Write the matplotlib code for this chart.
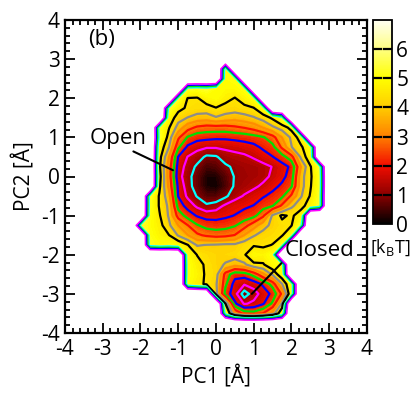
"""Free energy landscape on PC1/PC2 with open and closed basins."""

import numpy as np
import matplotlib as mpl
import matplotlib.pyplot as plt
from matplotlib.colors import LinearSegmentedColormap, Normalize
from matplotlib.ticker import MultipleLocator

plt.rcParams["font.family"] = ["Open Sans", "DejaVu Sans"]
plt.rcParams["mathtext.fontset"] = "custom"
plt.rcParams["mathtext.rm"] = "Open Sans"
plt.rcParams["axes.unicode_minus"] = False

# bin centres of the histogram [A]
PC1_GRID = np.arange(-2.25, 3.01, 0.25)   # 22 columns
PC2_GRID = np.arange(3.0, -3.76, -0.25)   # 28 rows, top to bottom

N = 9.0  # unsampled bins (drawn white)

# free energy [kBT], one row per PC2 value (top -> bottom)
FE_ROWS = [
    [N] * 22,
    [N, N, N, N, N, N, N, N, N, N, 5.1, N, N, N, N, N, N, N, N, N, N, N],
    [N, N, N, N, N, N, N, N, N, N, 5.0, 5.1, N, N, N, N, N, N, N, N, N, N],
    [N, N, N, N, N, N, 5.3, 5.2, 5.3, 5.0, 4.9, 4.9, 5.1, N, N, N, N, N, N, N, N, N],
    [N, N, N, N, N, 5.3, 4.48, 4.45, 4.8, 4.95, 4.7, 4.47, 4.8, 5.1, N, N, N, N, N, N, N, N],
    [N, N, N, N, 5.35, 4.7, 4.4, 4.3, 4.3, 4.48, 4.3, 4.25, 4.35, 4.48, 5.1, N, N, N, N, N, N, N],
    [N, N, N, N, 4.9, 4.2, 3.98, 3.8, 3.75, 3.95, 3.8, 3.7, 3.8, 3.95, 4.2, 4.6, 5.3, N, N, N, N, N],
    [N, N, N, 5.2, 4.55, 3.8, 3.2, 2.9, 2.8, 2.8, 2.8, 2.9, 3.02, 3.2, 3.52, 3.9, 4.2, 4.7, N, N, N, N],
    [N, N, N, 5.3, 4.3, 3.1, 2.45, 2.2, 2.15, 2.1, 2.1, 2.15, 2.2, 2.3, 2.45, 2.8, 3.52, 4.1, 4.8, N, N, N],
    [N, N, N, 4.9, 4.02, 2.6, 1.9, 1.65, 1.55, 1.55, 1.6, 1.65, 1.75, 1.85, 2.1, 2.35, 3.1, 3.98, 4.4, 5.0, N, N],
    [N, N, N, 4.7, 3.52, 1.98, 1.48, 1.25, 0.9, 0.94, 1.25, 1.35, 1.4, 1.55, 1.75, 1.98, 2.3, 2.8, 4.1, 4.9, N, N],
    [N, N, N, 4.6, 3.3, 1.8, 1.3, 0.9, 0.5, 0.6, 0.9, 1.1, 1.2, 1.25, 1.35, 1.52, 1.8, 2.1, 3.52, 4.45, 5.3, N],
    [N, N, N, 4.7, 3.3, 1.7, 1.2, 0.7, 0.2, 0.2, 0.6, 1.05, 1.15, 1.25, 1.35, 1.6, 1.85, 2.25, 3.8, 4.4, 5.2, N],
    [N, N, N, 4.6, 3.4, 1.9, 1.25, 0.7, 0.2, 0.1, 0.5, 1.1, 1.25, 1.4, 1.6, 1.85, 2.1, 2.45, 3.8, 4.45, 5.2, N],
    [N, N, 5.2, 4.45, 3.7, 1.98, 1.4, 0.96, 0.6, 0.6, 0.9, 1.3, 1.55, 1.75, 1.95, 2.15, 2.4, 3.1, 3.95, 4.55, 5.3, N],
    [N, N, 5.2, 4.45, 3.9, 2.3, 1.8, 1.4, 1.1, 1.25, 1.6, 1.8, 1.9, 2.02, 2.3, 2.48, 3.1, 3.9, 4.3, 4.8, 5.3, N],
    [N, N, 5.1, 4.55, 3.95, 2.8, 2.3, 1.95, 1.8, 1.8, 1.9, 2.02, 2.2, 2.35, 2.9, 4.1, 4.6, 4.4, 4.8, N, N, N],
    [N, 5.3, 5.0, 4.7, 4.1, 3.5, 3.02, 2.55, 2.3, 2.25, 2.3, 2.45, 2.8, 3.3, 3.8, 4.15, 4.35, 4.48, 5.4, N, N, N],
    [N, N, 5.1, 4.8, 4.52, 3.95, 3.52, 3.1, 2.9, 2.8, 2.85, 3.02, 3.52, 3.95, 4.2, 4.3, 4.45, 5.1, N, N, N, N],
    [N, N, 5.2, 5.0, 5.1, 4.9, 4.52, 3.95, 4.02, 4.05, 4.1, 4.1, 4.3, 4.45, 4.4, 4.52, 5.2, N, N, N, N, N],
    [N, N, N, N, N, N, 5.0, 4.48, 4.3, 4.2, 4.2, 4.25, 4.45, 4.9, 4.8, 5.1, N, N, N, N, N, N],
    [N, N, N, N, N, N, 5.1, 4.7, 4.4, 4.2, 3.95, 3.7, 3.9, 4.4, 4.45, 4.9, 5.2, N, N, N, N, N],
    [N, N, N, N, N, N, 5.1, 4.8, 4.4, 4.25, 2.8, 2.2, 2.25, 2.7, 3.4, 4.1, 4.9, N, N, N, N, N],
    [N, N, N, N, N, N, 5.0, 4.7, 4.4, 4.1, 2.6, 1.8, 1.55, 1.7, 2.1, 2.7, 3.98, 5.1, N, N, N, N],
    [N, N, N, N, N, N, N, N, N, 4.2, 2.3, 1.7, 0.7, 1.3, 1.7, 2.15, 3.1, 5.1, N, N, N, N],
    [N, N, N, N, N, N, N, N, N, N, 4.5, 2.1, 1.45, 1.6, 1.95, 2.6, 4.1, N, N, N, N, N],
    [N, N, N, N, N, N, N, N, N, N, 5.3, 3.52, 2.8, 2.7, 3.02, 3.7, 5.0, N, N, N, N, N],
    [N] * 22,
]

LINE_LEVELS = [1.0, 1.5, 2.0, 2.5, 3.0, 3.5, 4.0, 4.5, 5.5, 6.0, 6.5, 7.0]
LINE_COLORS = ["#00ffff", "#ff00ff", "#0000ff", "#00e000", "#ff1000", "#ff8c00",
               "#8c8c8c", "black", "#00ffff", "#00e000", "#0000ff", "#ff00ff"]
LINE_WIDTHS = [1.6] * 8 + [1.1] * 4

CBAR_TICKS = [0, 1, 2, 3, 4, 5, 6]
FE_MAX = 7.0

# colour table
cmap = LinearSegmentedColormap.from_list("fe", [
    (0.0, (0.0, 0.0, 0.0)),
    (1 / 7, (0.55, 0.0, 0.0)),
    (2 / 7, (0.95, 0.05, 0.0)),
    (3 / 7, (1.0, 0.5, 0.0)),
    (4 / 7, (1.0, 0.8, 0.0)),
    (5 / 7, (1.0, 1.0, 0.0)),
    (6 / 7, (1.0, 1.0, 0.5)),
    (1.0, (1.0, 1.0, 0.95)),
])
cmap.set_over("white")
norm = Normalize(0, FE_MAX)

x = PC1_GRID
y = PC2_GRID[::-1]
z = np.array(FE_ROWS)[::-1]

fig = plt.figure(figsize=(4.14, 3.94), dpi=100)
ax = fig.add_axes([65 / 414, 1 - 333 / 394, 302 / 414, 313 / 394])
cax = fig.add_axes([373 / 414, 1 - 224 / 394, 19 / 414, 204 / 394])

ax.contourf(x, y, z, levels=np.arange(0, FE_MAX + 0.01, 0.1), cmap=cmap,
            norm=norm, extend="max")
ax.contour(x, y, z, levels=LINE_LEVELS, colors=LINE_COLORS,
           linewidths=LINE_WIDTHS)

ax.set_xlim(-4, 4)
ax.set_ylim(-4, 4)
ax.set_xticks(range(-4, 5))
ax.set_yticks(range(-4, 5))
ax.xaxis.set_minor_locator(MultipleLocator(0.2))
ax.yaxis.set_minor_locator(MultipleLocator(0.2))
ax.tick_params(which="both", direction="in", top=True, right=True,
               labelsize=15, width=1.3)
ax.tick_params(which="major", length=7, pad=4)
ax.tick_params(which="minor", length=3.5)
for s in ax.spines.values():
    s.set_linewidth(1.6)
ax.set_xlabel("PC1 [Å]", fontsize=15, labelpad=4)
ax.set_ylabel("PC2 [Å]", fontsize=15, labelpad=4)

ax.text(-3.4, 3.5, "(b)", fontsize=16, va="center")
ax.annotate("Open", xy=(-1.14, 0.16), xytext=(-2.6, 0.98), fontsize=16,
            ha="center", va="center",
            arrowprops=dict(arrowstyle="-", color="k", lw=1.5,
                            shrinkA=0, shrinkB=0, relpos=(0.67, 0.0)))
ax.annotate("Closed", xy=(0.95, -3.0), xytext=(2.73, -1.9), fontsize=16,
            ha="center", va="center",
            arrowprops=dict(arrowstyle="-", color="k", lw=1.5,
                            shrinkA=0, shrinkB=0, relpos=(0.0, 0.05)))

cb = fig.colorbar(mpl.cm.ScalarMappable(norm=norm, cmap=cmap), cax=cax)
cb.set_ticks(CBAR_TICKS)
cb.outline.set_linewidth(1.3)
cax.tick_params(length=0, labelsize=15, pad=3)
for v in CBAR_TICKS[1:]:
    cax.axhline(v, xmin=0, xmax=0.42, color="k", lw=1.6)
    cax.axhline(v, xmin=0.58, xmax=1, color="k", lw=1.6)
fig.text(390 / 414, 1 - 248 / 394, r"[k$_\mathrm{B}$T]", fontsize=13,
         ha="center", va="center")

fig.savefig("out.png", dpi=100)
